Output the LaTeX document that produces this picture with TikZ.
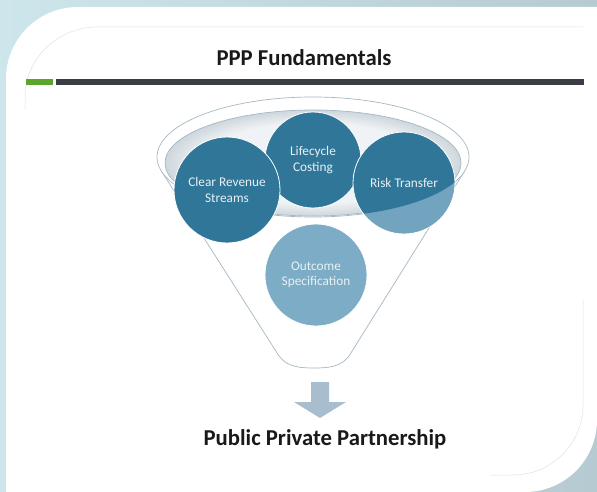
\documentclass[tikz,border=0pt]{standalone}
\usepackage{fontspec}
\setmainfont{Carlito}
\definecolor{bgA}{RGB}{205,230,236}
\definecolor{bgB}{RGB}{182,202,209}
\definecolor{frameC}{RGB}{226,226,226}
\definecolor{barDark}{RGB}{58,62,68}
\definecolor{barGreen}{RGB}{92,164,42}
\definecolor{funLine}{RGB}{165,184,195}
\definecolor{rimIn}{RGB}{206,215,221}
\definecolor{rimMid}{RGB}{240,243,245}
\definecolor{cDark}{RGB}{47,118,152}
\definecolor{cLight}{RGB}{114,164,192}
\definecolor{cOut}{RGB}{124,172,198}
\definecolor{txtC}{RGB}{232,240,244}
\definecolor{arrowC}{RGB}{168,190,206}
\pgfdeclareradialshading{rimshade}{\pgfpoint{0bp}{0bp}}{color(0bp)=(rimMid); color(19bp)=(rimMid); color(25bp)=(rimIn); color(50bp)=(rimIn)}
\begin{document}
\begin{tikzpicture}[x=1pt,y=-1pt,
  ball/.style={circle, inner sep=0pt, draw=white, line width=0.8pt, text=txtC, align=center, font=\fontsize{13.3}{15.5}\selectfont},
  bigtext/.style={font=\fontsize{22.7}{26}\selectfont\bfseries, text=black!90, inner sep=0pt, anchor=base}]
\useasboundingbox (0,0) rectangle (597,492);
% background and card
\shade[left color=bgA, right color=bgB] (0,0) rectangle (597,492);
\fill[white] (6,492) -- (6,79) .. controls (6,39.2) and (38.2,7) .. (78,7) -- (597,7) -- (597,420) .. controls (597,459.8) and (564.8,492) .. (525,492) -- cycle;
\draw[frameC, line width=0.5pt] (25,110) -- (25,97) .. controls (25,58.3) and (58.3,27) .. (97,27) -- (583,27);
\draw[frameC, line width=0.5pt] (583,300) -- (583,405) .. controls (583,443.7) and (551.7,475) .. (513,475) -- (490,475);
% title and bar
\node[bigtext] (title) at (304,66) {PPP Fundamentals};
\fill[barGreen] (26,79) rectangle (53,85);
\fill[barDark] (56,79) rectangle (584,85);
% funnel body
\filldraw[fill=white, draw=funLine, line width=0.7pt] (162,172) -- (279,356) .. controls (287,367) and (300,368) .. (314,368) .. controls (328,368) and (341,367) .. (349,356) -- (464,172) -- cycle;
% rim
\filldraw[fill=white, draw=funLine, line width=0.7pt] (313,157) ellipse [x radius=156pt, y radius=60pt];
\shade[shading=rimshade] (313,163) ellipse [x radius=148pt, y radius=53pt];
\draw[funLine, line width=0.7pt] (313,163) ellipse [x radius=148pt, y radius=53pt];
% circles
\node[ball, fill=cDark, minimum size=96pt] (lc) at (313,160) {Lifecycle\\Costing};
\node[ball, fill=cDark, minimum size=106pt] (cr) at (227,190) {Clear Revenue\\Streams};
\begin{scope}
  \clip (404,183) circle (51pt);
  \fill[cLight] (404,183) circle (51pt);
  \fill[cDark] (313,157) ellipse [x radius=156pt, y radius=60pt];
\end{scope}
\node[ball, minimum size=102pt] (rt) at (404,183) {Risk Transfer};
\node[ball, fill=cOut, minimum size=102pt] (oc) at (316,275) {Outcome\\Specification};
% arrow
\fill[arrowC] (311,382) -- (329,382) -- (329,402) -- (346,402) -- (320,418) -- (294,402) -- (311,402) -- cycle;
\node[bigtext] (ppp) at (325,445) {Public Private Partnership};
\end{tikzpicture}
\end{document}
